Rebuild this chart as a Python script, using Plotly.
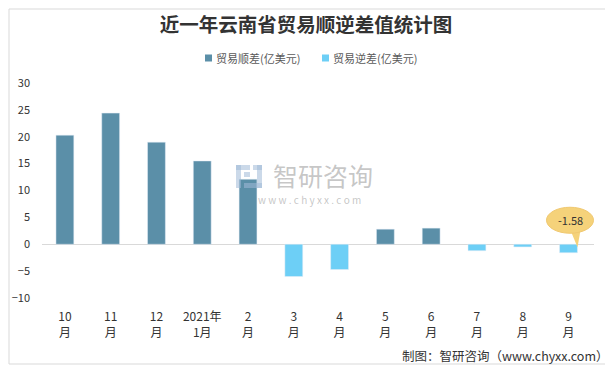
import plotly.graph_objects as go

months = ["10<br>月", "11<br>月", "12<br>月", "2021年<br>1月", "2<br>月", "3<br>月",
          "4<br>月", "5<br>月", "6<br>月", "7<br>月", "8<br>月", "9<br>月"]
values = [20.3, 24.4, 19.0, 15.5, 12.1, -6.0, -4.7, 2.8, 3.0, -1.2, -0.5, -1.58]
surplus = [v if v > 0 else None for v in values]
deficit = [v if v < 0 else None for v in values]
y_ticks = [-10, -5, 0, 5, 10, 15, 20, 25, 30]
series_names = ["贸易顺差(亿美元)", "贸易逆差(亿美元)"]
colors = ["#5B8FA8", "#6DCFF6"]

# page body has an 8px margin; figure starts at window (8, 8)
OFF = 8
WIN_W, WIN_H = 613, 367
W, H = WIN_W - OFF, WIN_H - OFF
PL, PR, PT, PB = 42, 594, 83, 298  # plot area in window pixels
ML, MR, MT, MB = PL - OFF, WIN_W - PR, PT - OFF, WIN_H - PB
PW, PH = W - ML - MR, H - MT - MB

def px(x):
    return (x - PL) / PW

def py(y):
    return (PB - y) / PH

FONT = "Noto Sans CJK SC"

fig = go.Figure()
fig.add_trace(go.Bar(x=months, y=surplus, name=series_names[0],
                     marker_color=colors[0], width=0.39, showlegend=False))
fig.add_trace(go.Bar(x=months, y=deficit, name=series_names[1],
                     marker_color=colors[1], width=0.39, showlegend=False))

# legend (drawn)
for sx, tx, name, c in [(205, 214, series_names[0], colors[0]), (322, 331, series_names[1], colors[1])]:
    fig.add_shape(type="rect", xref="paper", yref="paper", x0=px(sx), x1=px(sx + 7),
                  y0=py(61.5), y1=py(54.5), fillcolor=c, line=dict(width=0))
    fig.add_annotation(xref="paper", yref="paper", x=px(tx), y=py(58), xanchor="left",
                       yanchor="middle", text=name, showarrow=False,
                       font=dict(family=FONT, size=11, color="#595959"))

# callout for last value
last_i = len(values) - 1
fig.add_shape(type="path", xref="x", yref="y", xsizemode="pixel", ysizemode="pixel",
              xanchor=last_i, yanchor=0, path="M 2 14 L 9 -3 L 12 14 Z",
              fillcolor="#F5D27A", line=dict(width=0))
fig.add_shape(type="circle", xref="x", yref="y", xsizemode="pixel", ysizemode="pixel",
              xanchor=last_i, yanchor=0, x0=-22, x1=25, y0=11, y1=37,
              fillcolor="#F5D27A", line=dict(color="#F0C870", width=1))
fig.add_annotation(x=months[last_i], y=0, text=f"{values[last_i]}", showarrow=False,
                   xshift=2, yshift=24, yanchor="middle",
                   font=dict(family=FONT, size=11, color="#333333"))

# watermark logo
wm = "rgba(160,185,215,0.55)"
for (a, b, c, d) in [(236, 250, 165, 170), (236, 241, 165, 188), (244, 250, 172, 177),
                     (244, 262, 183, 188), (253, 262, 165, 170), (257, 262, 165, 188)]:
    fig.add_shape(type="rect", xref="paper", yref="paper", x0=px(a), x1=px(b),
                  y0=py(d), y1=py(c), fillcolor=wm, line=dict(width=0))
fig.add_annotation(xref="paper", yref="paper", x=px(323), y=py(175), yanchor="middle",
                   text="智研咨询", showarrow=False, borderpad=0,
                   font=dict(family=FONT, size=25, color="rgba(150,150,150,0.55)"))
fig.add_annotation(xref="paper", yref="paper", x=px(309), y=py(199), yanchor="middle",
                   text="w w w . c h y x x . c o m", showarrow=False, borderpad=0,
                   font=dict(family=FONT, size=10, color="rgba(150,150,150,0.55)"))

# source
fig.add_annotation(xref="paper", yref="paper", x=px(611), y=py(355), xanchor="right",
                   yanchor="middle", text="制图：智研咨询（www.chyxx.com）", showarrow=False,
                   font=dict(family=FONT, size=12.5, color="#333333"))

# frame
fig.add_shape(type="rect", xref="paper", yref="paper", x0=px(9), x1=px(609), y0=py(364), y1=py(9),
              line=dict(color="#D9D9D9", width=1), layer="below")

fig.update_layout(
    width=W, height=H,
    margin=dict(l=ML, r=MR, t=MT, b=MB, autoexpand=False),
    paper_bgcolor="white", plot_bgcolor="white",
    barmode="overlay",
    title=dict(text="<b>近一年云南省贸易顺逆差值统计图</b>",
               x=(306 - OFF) / W, xanchor="center", xref="container",
               y=1 - (25 - OFF) / H, yref="container", yanchor="middle",
               font=dict(family=FONT, size=19.5, color="#333333")),
    showlegend=False,
    font=dict(family=FONT, color="#333333"),
)
fig.update_xaxes(showline=False, showgrid=False, ticks="", automargin=False,
                 tickfont=dict(family=FONT, size=12, color="#333333"), ticklabelstandoff=10)
fig.update_yaxes(range=[-10, 30], tickvals=y_ticks, showgrid=False, zeroline=True,
                 zerolinecolor="#D9D9D9", zerolinewidth=1, showline=False, automargin=False,
                 tickfont=dict(family=FONT, size=11, color="#333333"), ticklabelstandoff=11)

fig.write_html("out.html")
